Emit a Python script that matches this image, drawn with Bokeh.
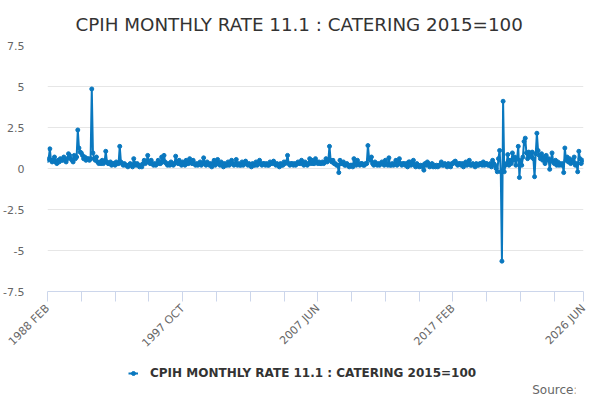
import math
import pandas as pd
from bokeh.plotting import figure
from bokeh.layouts import column
from bokeh.models import (Range1d, FixedTicker, Legend, LegendItem, Label,
                          NumeralTickFormatter)
from bokeh.embed import file_html
from bokeh.resources import INLINE

# monthly rate, % (1988 FEB .. 2026 JUN), one row per year
rates = [
    0.5, 0.6, 1.2, 0.5, 0.4, 0.5, 0.7, 0.4, 0.3, 0.5, 0.4,                # 1988
    0.6, 0.5, 0.5, 0.7, 0.5, 0.4, 0.6, 0.9, 0.8, 0.6, 0.5, 0.4,           # 1989
    0.8, 0.6, 0.7, 2.35, 1.25, 1.0, 0.95, 0.8, 0.6, 0.7, 0.5, 0.6,        # 1990
    0.6, 0.5, 0.6, 4.85, 0.95, 0.6, 0.5, 0.7, 0.4, 0.3, 0.4, 0.3,         # 1991
    0.5, 0.3, 0.4, 1.05, 0.4, 0.3, 0.3, 0.4, 0.2, 0.3, 0.3, 0.2,          # 1992
    0.4, 0.3, 0.3, 1.35, 0.4, 0.3, 0.2, 0.3, 0.2, 0.2, 0.1, 0.2,          # 1993
    0.3, 0.2, 0.1, 0.6, 0.3, 0.2, 0.3, 0.2, 0.1, 0.2, 0.1, 0.3,           # 1994
    0.5, 0.3, 0.4, 0.8, 0.4, 0.3, 0.5, 0.3, 0.2, 0.3, 0.2, 0.3,           # 1995
    0.5, 0.3, 0.3, 0.7, 0.4, 0.8, 0.4, 0.3, 0.2, 0.3, 0.2, 0.4,           # 1996
    0.3, 0.2, 0.3, 0.75, 0.4, 0.3, 0.5, 0.3, 0.2, 0.4, 0.3, 0.2,          # 1997
    0.5, 0.3, 0.3, 0.6, 0.4, 0.3, 0.5, 0.3, 0.2, 0.3, 0.2, 0.3,           # 1998
    0.4, 0.2, 0.3, 0.65, 0.3, 0.2, 0.4, 0.3, 0.2, 0.3, 0.1, 0.3,          # 1999
    0.5, 0.2, 0.3, 0.55, 0.3, 0.2, 0.4, 0.3, 0.1, 0.3, 0.2, 0.2,          # 2000
    0.4, 0.2, 0.3, 0.5, 0.3, 0.2, 0.3, 0.55, 0.2, 0.3, 0.2, 0.2,          # 2001
    0.4, 0.2, 0.3, 0.45, 0.3, 0.2, 0.3, 0.2, 0.1, 0.3, 0.2, 0.2,          # 2002
    0.4, 0.2, 0.3, 0.5, 0.3, 0.2, 0.3, 0.3, 0.2, 0.3, 0.2, 0.2,           # 2003
    0.4, 0.3, 0.3, 0.45, 0.3, 0.2, 0.3, 0.2, 0.1, 0.3, 0.2, 0.2,          # 2004
    0.4, 0.3, 0.4, 0.8, 0.3, 0.2, 0.3, 0.3, 0.2, 0.3, 0.2, 0.3,           # 2005
    0.4, 0.3, 0.3, 0.5, 0.3, 0.2, 0.4, 0.3, 0.2, 0.3, 0.6, 0.3,           # 2006
    0.5, 0.3, 0.3, 0.6, 0.4, 0.3, 0.4, 0.3, 0.3, 0.4, 0.3, 0.4,           # 2007
    0.6, 0.4, 0.5, 1.35, 0.5, 0.4, 0.5, 0.3, 0.3, 0.2, 0.2, -0.25,        # 2008
    0.5, 0.3, 0.3, 0.4, 0.2, 0.2, 0.3, 0.2, 0.1, 0.2, 0.2, 0.1,           # 2009
    0.6, 0.3, 0.2, 0.5, 0.3, 0.2, 0.3, 0.3, 0.2, 0.2, 0.3, 0.3,           # 2010
    1.4, 0.6, 0.5, 0.7, 0.3, 0.2, 0.4, 0.3, 0.2, 0.3, 0.2, 0.3,           # 2011
    0.4, 0.3, 0.2, 0.5, 0.3, 0.2, 0.65, 0.2, 0.2, 0.3, 0.2, 0.3,          # 2012
    0.5, 0.2, 0.3, 0.6, 0.3, 0.2, 0.3, 0.3, 0.2, 0.3, 0.1, 0.4,           # 2013
    0.4, 0.2, 0.3, 0.5, 0.2, 0.1, 0.3, 0.2, 0.1, 0.2, 0.1, 0.2,           # 2014
    -0.1, 0.3, 0.2, 0.4, 0.3, 0.1, 0.2, 0.3, 0.1, 0.2, 0.1, 0.2,          # 2015
    0.1, 0.2, 0.2, 0.4, 0.2, 0.2, 0.3, 0.2, 0.1, 0.3, 0.2, 0.1,           # 2016
    0.3, 0.3, 0.4, 0.45, 0.3, 0.2, 0.3, 0.3, 0.2, 0.3, 0.1, 0.3,          # 2017
    0.4, 0.2, 0.3, 0.5, 0.2, 0.2, 0.3, 0.2, 0.1, 0.3, 0.2, 0.2,           # 2018
    0.3, 0.3, 0.2, 0.4, 0.2, 0.3, 0.3, 0.2, 0.2, 0.3, 0.1, 0.5,           # 2019
    0.3, 0.2, 0.0, -0.2, 0.6, 1.1, -0.2, -5.65, 4.1, -0.2, 0.2, 0.3,      # 2020
    0.85, 0.2, 0.5, 0.3, 0.95, 0.5, 0.7, 0.2, 0.6, 1.35, -0.55, 0.5,      # 2021
    0.2, 0.7, 1.65, 1.85, 0.95, 0.6, 1.0, 0.8, 0.7, 1.0, 0.6, -0.5,       # 2022
    0.9, 2.15, 1.1, 0.8, 0.6, 0.9, 0.5, 0.7, 0.3, 0.8, 0.5, 0.6,          # 2023
    -0.05, 0.5, 0.95, 0.4, 0.3, 0.5, 0.2, 0.4, 0.2, 0.3, 0.2, 0.3,        # 2024
    -0.25, 1.25, 0.5, 0.7, 0.4, 0.6, 0.3, 0.5, 0.4, 0.7, 0.2, 0.3,        # 2025
    -0.2, 1.05, 0.6, 0.3, 0.5, 0.4,                                       # 2026
]

months = pd.period_range("1988-02", "2026-06", freq="M")
month_labels = [m.strftime("%Y %b").upper() for m in months]
shown_labels = ["1988 FEB", "1997 OCT", "2007 JUN", "2017 FEB", "2026 JUN"]
y_ticks = [-7.5, -5, -2.5, 0, 2.5, 5, 7.5]

series_name = "CPIH MONTHLY RATE 11.1 : CATERING 2015=100"
blue = "#0a78bf"
font = "DejaVu Sans"

x = list(range(len(months)))
n = len(months)

p = figure(frame_width=536, frame_height=246, x_range=Range1d(0, n - 1),
           y_range=Range1d(-7.5, 7.5), output_backend="svg",
           toolbar_location=None, min_border_left=0, min_border_right=9,
           min_border_top=0, min_border_bottom=0)
p.outline_line_color = None

p.title.text = series_name
p.title.align = "left"
p.title.offset = 28
p.title.standoff = 22
p.title.text_font = font
p.title.text_font_size = "18.3px"
p.title.text_font_style = "normal"
p.title.text_color = "#333333"

# x axis: a tick every 29 months plus the last month
tick_pos = list(range(0, n - 20, 29)) + [n - 1]
p.xaxis.ticker = FixedTicker(ticks=tick_pos)
p.xaxis.major_label_overrides = {
    i: (month_labels[i] if month_labels[i] in shown_labels else "") for i in tick_pos}
p.xaxis.major_label_orientation = math.pi / 4
p.xaxis.axis_line_color = "#ccd6eb"
p.xaxis.major_tick_line_color = "#ccd6eb"
p.xaxis.major_tick_out = 10
p.xaxis.major_tick_in = 0
p.xaxis.minor_tick_line_color = None
p.xaxis.major_label_text_font = font
p.xaxis.major_label_text_font_size = "11px"
p.xaxis.major_label_text_color = "#666666"

p.yaxis.ticker = FixedTicker(ticks=y_ticks)
p.yaxis.formatter = NumeralTickFormatter(format="0.[0]")
p.yaxis.axis_line_color = None
p.yaxis.major_tick_line_color = None
p.yaxis.minor_tick_line_color = None
p.yaxis.major_label_standoff = 17
p.yaxis.major_label_text_font = font
p.yaxis.major_label_text_font_size = "11px"
p.yaxis.major_label_text_color = "#666666"

p.xgrid.grid_line_color = None
p.ygrid.ticker = FixedTicker(ticks=y_ticks)
p.ygrid.grid_line_color = "#e6e6e6"

p.line(x, rates, line_width=2, line_color=blue)
p.scatter(x, rates, size=4, fill_color=blue, line_color=blue)

# strip under the chart for the legend and the source note
# (its frame lines up with the chart frame, so screen x counts from there)
foot = figure(width=584, height=40, x_range=Range1d(0, 1), y_range=Range1d(0, 1),
              x_axis_type=None, y_axis_type=None, output_backend="svg",
              toolbar_location=None, min_border=0)
foot.outline_line_color = None
foot.grid.grid_line_color = None
# key glyphs drawn outside the visible range, only used by the legend
key_line = foot.line(x=[2, 3], y=[2, 2], line_width=2, line_color=blue)
key_pts = foot.scatter(x=[2, 3], y=[2, 2], size=4, fill_color=blue, line_color=blue)

legend = Legend(items=[LegendItem(label=series_name, renderers=[key_line, key_pts])],
                location=(81, 14), orientation="horizontal",
                label_text_font=font, label_text_font_size="12px",
                label_text_font_style="bold", label_text_color="#333333",
                border_line_color=None, background_fill_alpha=0,
                glyph_width=10, label_standoff=12, padding=0, margin=0)
foot.add_layout(legend, "center")

source = Label(x=530, y=1, x_units="screen", y_units="screen", text="Source:",
               text_align="right", text_baseline="bottom", text_font=font,
               text_font_size="12px", text_color="#666666")
foot.add_layout(source)

open("out.html", "w").write(file_html(column(p, foot), INLINE))
